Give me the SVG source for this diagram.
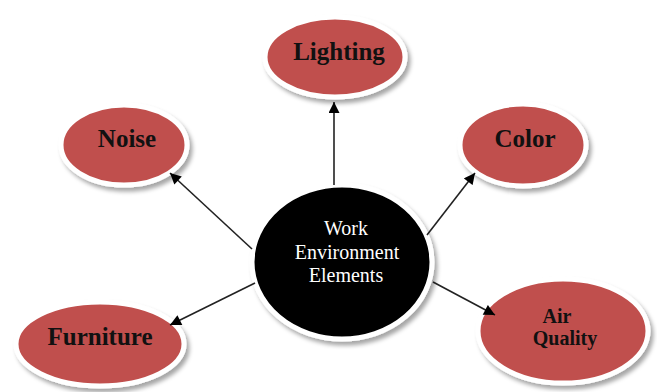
<svg xmlns="http://www.w3.org/2000/svg" width="657" height="392" viewBox="0 0 657 392">
<defs>
<filter id="sh" x="-20%" y="-20%" width="150%" height="150%">
<feDropShadow dx="3" dy="4" stdDeviation="2" flood-color="#000" flood-opacity="0.35"/>
</filter>
<marker id="ah" viewBox="0 0 10 10" refX="10" refY="5" markerWidth="13" markerHeight="11" markerUnits="userSpaceOnUse" orient="auto">
<path d="M0,0 L10,5 L0,10 z" fill="#000"/>
</marker>
<style>
.leaf{fill:#c0504d;stroke:#fff;stroke-width:5;filter:url(#sh)}
.hub{fill:#000;stroke:#fff;stroke-width:5;filter:url(#sh)}
.lbl{font-family:"Liberation Serif","Times New Roman",serif;font-weight:bold;fill:#111;text-anchor:middle}
.hubt{font-family:"Liberation Serif","Times New Roman",serif;font-size:20px;fill:#fff;text-anchor:middle}
.conn line{stroke:#222;stroke-width:1.6;marker-end:url(#ah)}
</style>
</defs>
<rect width="657" height="392" fill="#fff"/>
<g id="lighting">
<ellipse class="leaf" cx="335" cy="57" rx="70" ry="40"/>
<text class="lbl" x="339" y="60" font-size="25">Lighting</text>
</g>
<g id="noise">
<ellipse class="leaf" cx="124" cy="145" rx="63" ry="40"/>
<text class="lbl" x="127" y="147" font-size="25">Noise</text>
</g>
<g id="color">
<ellipse class="leaf" cx="523" cy="145" rx="63" ry="41"/>
<text class="lbl" x="525" y="147" font-size="25">Color</text>
</g>
<g id="furniture">
<ellipse class="leaf" cx="100" cy="344" rx="84" ry="42"/>
<text class="lbl" x="100" y="345" font-size="25">Furniture</text>
</g>
<g id="airquality">
<ellipse class="leaf" cx="563" cy="331" rx="85" ry="52"/>
<text class="lbl" x="557" y="323" font-size="20">Air</text>
<text class="lbl" x="565" y="345" font-size="20">Quality</text>
</g>
<g id="center">
<ellipse class="hub" cx="342" cy="262" rx="90" ry="77"/>
<text class="hubt" x="346" y="235">Work</text>
<text class="hubt" x="347" y="259">Environment</text>
<text class="hubt" x="346" y="282">Elements</text>
</g>
<g id="connectors" class="conn">
<line x1="334" y1="185" x2="334" y2="102"/>
<line x1="252" y1="249" x2="170" y2="173"/>
<line x1="427" y1="235" x2="475" y2="173"/>
<line x1="255" y1="283" x2="170" y2="325"/>
<line x1="433" y1="282" x2="495" y2="315"/>
</g>
</svg>
